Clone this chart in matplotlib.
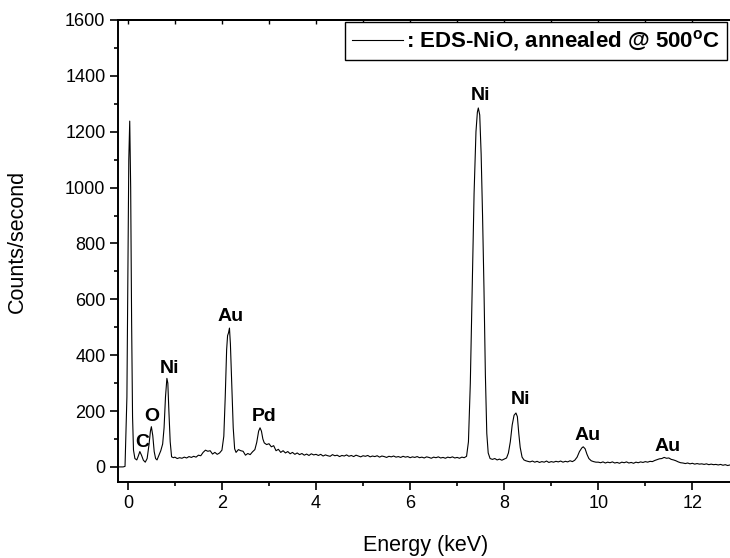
import matplotlib
matplotlib.use("Agg")
import matplotlib.pyplot as plt
from matplotlib.ticker import MultipleLocator
import numpy as np

plt.rcParams['font.family'] = ['Liberation Sans', 'DejaVu Sans']
plt.rcParams['mathtext.fontset'] = 'custom'
plt.rcParams['mathtext.rm'] = 'Liberation Sans'
plt.rcParams['mathtext.bf'] = 'Liberation Sans:bold'

# spectrum, region by region (keV, counts/s)
energy_low = [-0.20, -0.10, -0.06, -0.02, 0.00, 0.02, 0.04, 0.06, 0.08, 0.10, 0.12,
              0.15, 0.19, 0.22, 0.255, 0.29, 0.33, 0.37, 0.41, 0.45, 0.48, 0.50, 0.53,
              0.56, 0.59, 0.62, 0.66, 0.70, 0.74, 0.77, 0.80, 0.83, 0.85, 0.87, 0.90,
              0.93, 0.97, 1.00]
counts_low = [0, 0, 2, 250, 700, 1100, 1238, 1000, 520, 180, 60,
              30, 25, 38, 55, 42, 24, 17, 30, 80, 128, 144, 112,
              55, 30, 25, 42, 58, 82, 140, 250, 317, 300, 210, 90,
              36, 33, 35]

energy_mid = [1.05, 1.10, 1.15, 1.20, 1.25, 1.30, 1.35, 1.40, 1.45, 1.50, 1.55, 1.60,
              1.65, 1.70, 1.75, 1.80, 1.85, 1.90, 1.95, 2.00, 2.04, 2.07, 2.10, 2.12,
              2.14, 2.16, 2.18, 2.21, 2.24, 2.27, 2.30, 2.35, 2.40, 2.45, 2.50, 2.55,
              2.60, 2.65, 2.70, 2.74, 2.78, 2.81, 2.84, 2.87, 2.90, 2.95, 3.00, 3.05,
              3.10, 3.15, 3.20, 3.25, 3.30, 3.35, 3.40, 3.45, 3.50, 3.55, 3.60, 3.65,
              3.70, 3.75, 3.80, 3.85, 3.90, 3.95, 4.00]
counts_mid = [30, 33, 31, 35, 32, 37, 34, 38, 35, 42, 40, 52,
              60, 56, 58, 46, 52, 45, 50, 60, 110, 250, 420, 470,
              480, 497, 440, 290, 140, 65, 52, 62, 58, 56, 42, 48,
              44, 54, 62, 88, 128, 140, 128, 100, 86, 80, 83, 72,
              76, 58, 63, 52, 58, 50, 55, 47, 52, 45, 50, 44,
              48, 42, 46, 41, 47, 43, 45]

energy_flat = [4.05, 4.10, 4.15, 4.20, 4.25, 4.30, 4.35, 4.40, 4.45, 4.50,
               4.55, 4.60, 4.65, 4.70, 4.75, 4.80, 4.85, 4.90, 4.95, 5.00,
               5.05, 5.10, 5.15, 5.20, 5.25, 5.30, 5.35, 5.40, 5.45, 5.50,
               5.55, 5.60, 5.65, 5.70, 5.75, 5.80, 5.85, 5.90, 5.95, 6.00,
               6.05, 6.10, 6.15, 6.20, 6.25, 6.30, 6.35, 6.40, 6.45, 6.50,
               6.55, 6.60, 6.65, 6.70, 6.75, 6.80, 6.85, 6.90, 6.95, 7.00,
               7.05, 7.10, 7.15]
counts_flat = [41, 45, 39, 43, 40, 38, 44, 40, 42, 37,
               41, 39, 43, 38, 41, 37, 42, 39, 36, 40,
               38, 41, 36, 39, 37, 40, 35, 39, 37, 34,
               38, 36, 39, 35, 37, 34, 38, 35, 37, 33,
               36, 34, 37, 33, 35, 32, 36, 34, 31, 35,
               33, 36, 32, 34, 31, 35, 33, 36, 32, 34,
               31, 35, 33]

energy_nik = [7.20, 7.24, 7.28, 7.32, 7.36, 7.40, 7.43, 7.45, 7.48, 7.51, 7.54, 7.57,
              7.60, 7.63, 7.66, 7.70, 7.75, 7.80, 7.85, 7.90, 7.95, 8.00, 8.05, 8.09,
              8.13, 8.17, 8.21, 8.25, 8.28, 8.31, 8.34, 8.38, 8.42, 8.46, 8.50]
counts_nik = [38, 90, 300, 640, 980, 1200, 1270, 1285, 1260, 1120, 900, 640,
              330, 120, 50, 30, 27, 30, 25, 28, 24, 28, 32, 50,
              90, 150, 185, 193, 180, 120, 70, 35, 25, 22, 20]

energy_aul = [8.55, 8.60, 8.65, 8.70, 8.75, 8.80, 8.85, 8.90, 8.95, 9.00,
              9.05, 9.10, 9.15, 9.20, 9.25, 9.30, 9.35, 9.40, 9.45, 9.50,
              9.55, 9.60, 9.65, 9.68, 9.72, 9.76, 9.80, 9.85, 9.90, 9.95,
              10.00, 10.05, 10.10, 10.15, 10.20, 10.25, 10.30, 10.35, 10.40, 10.45,
              10.50, 10.55, 10.60, 10.65, 10.70, 10.75, 10.80, 10.85, 10.90, 10.95,
              11.00, 11.05, 11.10, 11.15, 11.20, 11.25, 11.30, 11.35, 11.40, 11.45,
              11.50, 11.55, 11.60, 11.65, 11.70, 11.75, 11.80, 11.85, 11.90, 11.95,
              12.00, 12.05, 12.10, 12.15, 12.20, 12.25, 12.30, 12.35, 12.40, 12.45,
              12.50, 12.55, 12.60, 12.65, 12.70, 12.75, 12.80, 12.85]
counts_aul = [18, 21, 17, 20, 16, 19, 17, 21, 16, 19,
              17, 20, 18, 21, 17, 20, 18, 22, 19, 24,
              35, 55, 68, 72, 65, 45, 30, 22, 19, 17,
              17, 15, 18, 14, 17, 15, 18, 14, 16, 13,
              17, 15, 18, 14, 16, 13, 17, 15, 18, 16,
              19, 17, 20, 19, 23, 26, 29, 30, 34, 31,
              32, 27, 25, 22, 18, 15, 14, 12, 14, 11,
              13, 10, 12, 10, 11, 9, 11, 8, 10, 8,
              9, 7, 9, 6, 8, 5, 7, 6]

# peak labels: (text, energy, counts)
peak_names = ['C', 'O', 'Ni', 'Au', 'Pd', 'Ni', 'Ni', 'Au', 'Au']
peak_x = [0.30, 0.51, 0.89, 2.19, 2.89, 7.49, 8.34, 9.77, 11.47]
peak_y = [86, 179, 354, 537, 179, 1331, 240, 114, 72]

energy = np.concatenate([energy_low, energy_mid, energy_flat, energy_nik, energy_aul])
counts = np.concatenate([counts_low, counts_mid, counts_flat, counts_nik, counts_aul])

fig = plt.figure(figsize=(7.3, 5.58), dpi=100)
ax = fig.add_axes([0.1616, 0.1362, 0.8384, 0.828])

ax.plot(energy, counts, color='black', lw=0.8,
        label=r': EDS-NiO, annealed @ 500$^{\mathbf{o}}$C')

for name, px, py in zip(peak_names, peak_x, peak_y):
    ax.text(px, py, name, ha='center', va='center', fontsize=14, fontweight='bold')

ax.set_xlim(-0.21, 12.8)
ax.set_ylim(-54, 1600)
ax.xaxis.set_major_locator(MultipleLocator(2))
ax.xaxis.set_minor_locator(MultipleLocator(1))
ax.yaxis.set_major_locator(MultipleLocator(200))
ax.yaxis.set_minor_locator(MultipleLocator(100))
ax.tick_params(which='major', direction='out', length=5.5, width=1.2, labelsize=13)
ax.tick_params(which='minor', direction='out', length=3, width=1.2)
for side in ['left', 'bottom', 'top']:
    ax.spines[side].set_linewidth(1.4)
ax.spines['right'].set_visible(False)

top = ax.secondary_xaxis('top')
top.xaxis.set_major_locator(MultipleLocator(1))
top.tick_params(direction='in', length=3, width=1.0, labeltop=False)
top.spines['top'].set_linewidth(1.4)

ax.set_xlabel('Energy (keV)', fontsize=15.5)
ax.set_ylabel('Counts/second', fontsize=15.5)
ax.xaxis.set_label_coords(0.502, -0.115)
ax.yaxis.set_label_coords(-0.147, 0.52)

leg = ax.legend(loc='upper right', bbox_to_anchor=(0.995, 0.996), borderaxespad=0,
                fancybox=False, edgecolor='black', framealpha=1,
                prop={'weight': 'bold', 'size': 16}, handlelength=2.3,
                handletextpad=0.15, borderpad=0.3)
leg.get_frame().set_linewidth(1.0)

fig.savefig('out.png', dpi=100)
